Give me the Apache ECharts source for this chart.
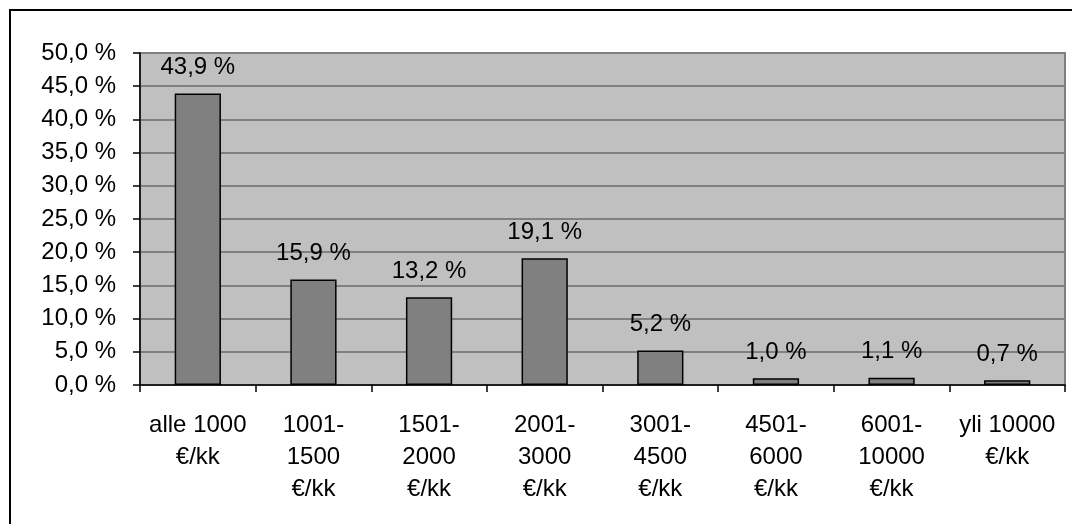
<!DOCTYPE html>
<html>
<head>
<meta charset="utf-8">
<script src="https://cdn.jsdelivr.net/npm/echarts@6/dist/echarts.min.js"></script>
<style>
  html, body { margin: 0; padding: 0; background: #fff; }
  #chart { width: 1072px; height: 524px; }
</style>
</head>
<body>
<div id="chart"></div>
<script>
// Income brackets (euros per month) and share of respondents in each
const categories = [
  'alle 1000\n€/kk',
  '1001-\n1500\n€/kk',
  '1501-\n2000\n€/kk',
  '2001-\n3000\n€/kk',
  '3001-\n4500\n€/kk',
  '4501-\n6000\n€/kk',
  '6001-\n10000\n€/kk',
  'yli 10000\n€/kk'
];
const shares = [43.9, 15.9, 13.2, 19.1, 5.2, 1.0, 1.1, 0.7];

const fmtPct = v => v.toFixed(1).replace('.', ',') + ' %';

const chart = echarts.init(document.getElementById('chart'), null, { renderer: 'canvas' });
const FONT = 'Liberation Sans, Arial, sans-serif';
const FS = 24;

chart.setOption({
  animation: false,
  backgroundColor: '#ffffff',
  graphic: [
    {
      type: 'rect',
      shape: { x: 10, y: 10, width: 1080, height: 540 },
      style: { fill: 'none', stroke: '#000', lineWidth: 2 },
      silent: true,
      z: 100
    }
  ],
  grid: {
    left: 140,
    top: 53,
    right: 7,
    bottom: 139,
    show: true,
    backgroundColor: '#c0c0c0',
    borderColor: '#808080',
    borderWidth: 2
  },
  xAxis: {
    type: 'category',
    data: categories,
    boundaryGap: true,
    axisLine: { lineStyle: { color: '#000', width: 1.5 } },
    axisTick: { show: true, length: 7, lineStyle: { color: '#000', width: 1.5 } },
    axisLabel: {
      color: '#000',
      fontFamily: FONT,
      fontSize: FS,
      lineHeight: 32,
      margin: 24,
      interval: 0
    }
  },
  yAxis: {
    type: 'value',
    min: 0,
    max: 50,
    interval: 5,
    axisLine: { show: true, lineStyle: { color: '#000', width: 1.5 } },
    axisTick: { show: true, length: 7, lineStyle: { color: '#000', width: 1.5 } },
    splitLine: { show: true, lineStyle: { color: '#808080', width: 2 } },
    axisLabel: {
      color: '#000',
      fontFamily: FONT,
      fontSize: FS,
      margin: 24,
      formatter: v => fmtPct(v)
    }
  },
  series: [
    {
      type: 'bar',
      data: shares,
      barWidth: '40%',
      itemStyle: { color: '#808080', borderColor: '#000', borderWidth: 1.5 },
      label: {
        show: true,
        position: 'top',
        distance: 14,
        color: '#000',
        fontFamily: FONT,
        fontSize: FS,
        formatter: p => fmtPct(p.value)
      }
    }
  ]
});
</script>
</body>
</html>
